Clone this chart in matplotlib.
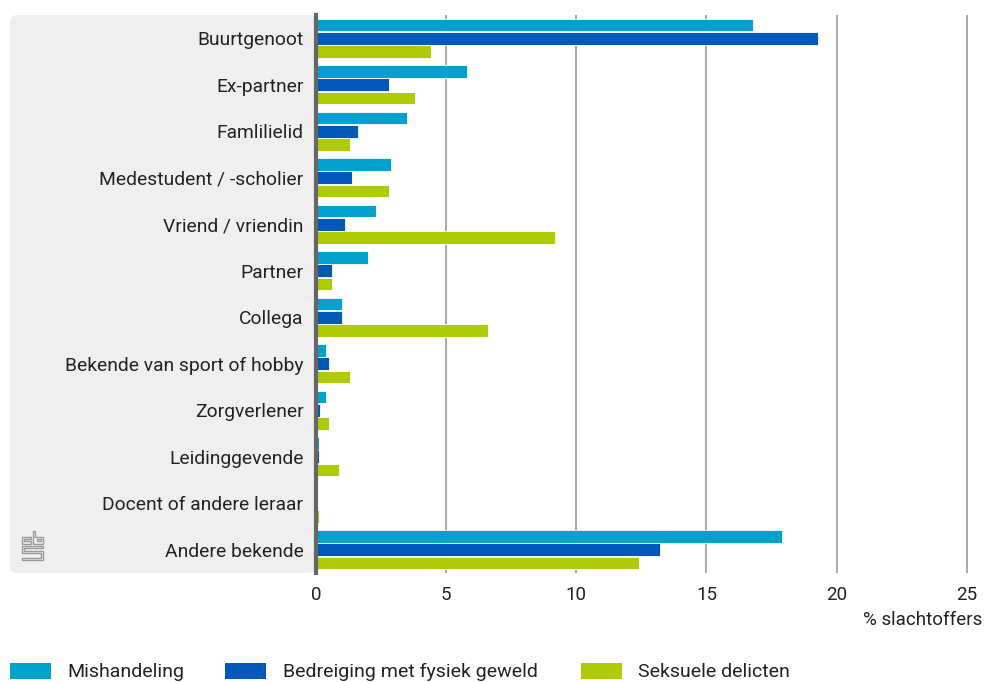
import matplotlib
matplotlib.use("Agg")
import matplotlib.pyplot as plt
from matplotlib.patches import FancyBboxPatch, Rectangle, Polygon
import numpy as np

plt.rcParams['font.family'] = ['Liberation Sans Narrow', 'Roboto', 'DejaVu Sans']

categories = ["Buurtgenoot", "Ex-partner", "Famlilielid", "Medestudent / -scholier",
              "Vriend / vriendin", "Partner", "Collega", "Bekende van sport of hobby",
              "Zorgverlener", "Leidinggevende", "Docent of andere leraar", "Andere bekende"]
mishandeling = [16.8, 5.8, 3.5, 2.9, 2.3, 2.0, 1.0, 0.4, 0.4, 0.1, 0.0, 17.9]
bedreiging = [19.3, 2.8, 1.6, 1.4, 1.1, 0.6, 1.0, 0.5, 0.15, 0.1, 0.0, 13.2]
seksueel = [4.4, 3.8, 1.3, 2.8, 9.2, 0.6, 6.6, 1.3, 0.5, 0.9, 0.1, 12.4]
series_names = ["Mishandeling", "Bedreiging met fysiek geweld", "Seksuele delicten"]
colors = ["#00a1cd", "#0058b8", "#afcb05"]
xticks = [0, 5, 10, 15, 20, 25]

W, H = 986, 682
fig = plt.figure(figsize=(W / 100, H / 100), dpi=100)

# gray panel behind labels
panel = FancyBboxPatch((10 / W, (H - 573) / H), (316 - 10) / W, (573 - 15) / H,
                       boxstyle="round,pad=0,rounding_size=0.008",
                       transform=fig.transFigure, facecolor="#efefef",
                       edgecolor="none", zorder=-5)
fig.patches.append(panel)

ax = fig.add_axes([316 / W, (H - 573) / H, (985 - 316) / W, (573 - 15) / H])
ax.set_facecolor("none")
ax.set_zorder(2)

y = np.arange(len(categories))
step = 0.285
bh = 0.27
for i, (vals, c) in enumerate(zip([mishandeling, bedreiging, seksueel], colors)):
    ax.barh(y + (i - 1) * step, vals, height=bh, color=c, edgecolor="white",
            linewidth=0.6, zorder=3, label=series_names[i])

ax.set_ylim(len(categories) - 0.5, -0.5)
ax.set_xlim(0, 25.7)
ax.set_yticks(y)
ax.set_yticklabels(categories, fontsize=13.9, color="#222222")
ax.set_xticks(xticks)
ax.set_xticklabels([str(t) for t in xticks], fontsize=13.5, color="#222222")
ax.tick_params(axis="y", length=0, pad=9)
ax.tick_params(axis="x", length=0, pad=9)
for t in xticks[1:]:
    ax.axvline(t, color="#999999", linewidth=1.2, zorder=1)
for s in ["top", "right", "bottom"]:
    ax.spines[s].set_visible(False)
ax.spines["left"].set_color("#666666")
ax.spines["left"].set_linewidth(3)
ax.spines["left"].set_zorder(4)

fig.text(982 / W, 1 - 620 / H, "% slachtoffers", ha="right", va="center",
         fontsize=13.5, color="#222222")

# legend
leg_items = [(10, 67, "Mishandeling"), (225, 283, "Bedreiging met fysiek geweld"),
             (581, 638, "Seksuele delicten")]
for (x0, xt, name), c in zip(leg_items, colors):
    fig.patches.append(Rectangle((x0 / W, 1 - 679 / H), 41 / W, 16 / H,
                                 transform=fig.transFigure, facecolor=c,
                                 edgecolor="none"))
    fig.text(xt / W, 1 - 672 / H, name, ha="left", va="center",
             fontsize=14, color="#222222")

# simple cbs logo approximation
lc = "#9a9a9a"
def poly(pts, closed=True):
    fig.patches.append(Polygon([(px / W, 1 - py / H) for px, py in pts], closed=closed,
                               transform=fig.transFigure, facecolor="none",
                               edgecolor=lc, linewidth=1.0))
# c
poly([(31, 536.5), (21.5, 536.5), (21.5, 543.5), (31, 543.5), (31, 541.2), (24, 541.2),
      (24, 538.8), (31, 538.8)])
# b
poly([(32.5, 530.5), (35, 530.5), (35, 536.5), (43, 536.5), (43, 543.5), (32.5, 543.5)])
poly([(37, 538.8), (40.5, 538.8), (40.5, 541.2), (37, 541.2)])
# s
poly([(43, 545.5), (21.5, 545.5), (21.5, 553.2), (40.5, 553.2), (40.5, 557.5), (21.5, 557.5),
      (21.5, 560), (43, 560), (43, 550.8), (24, 550.8), (24, 548), (43, 548)])

fig.savefig("out.png", dpi=100)
